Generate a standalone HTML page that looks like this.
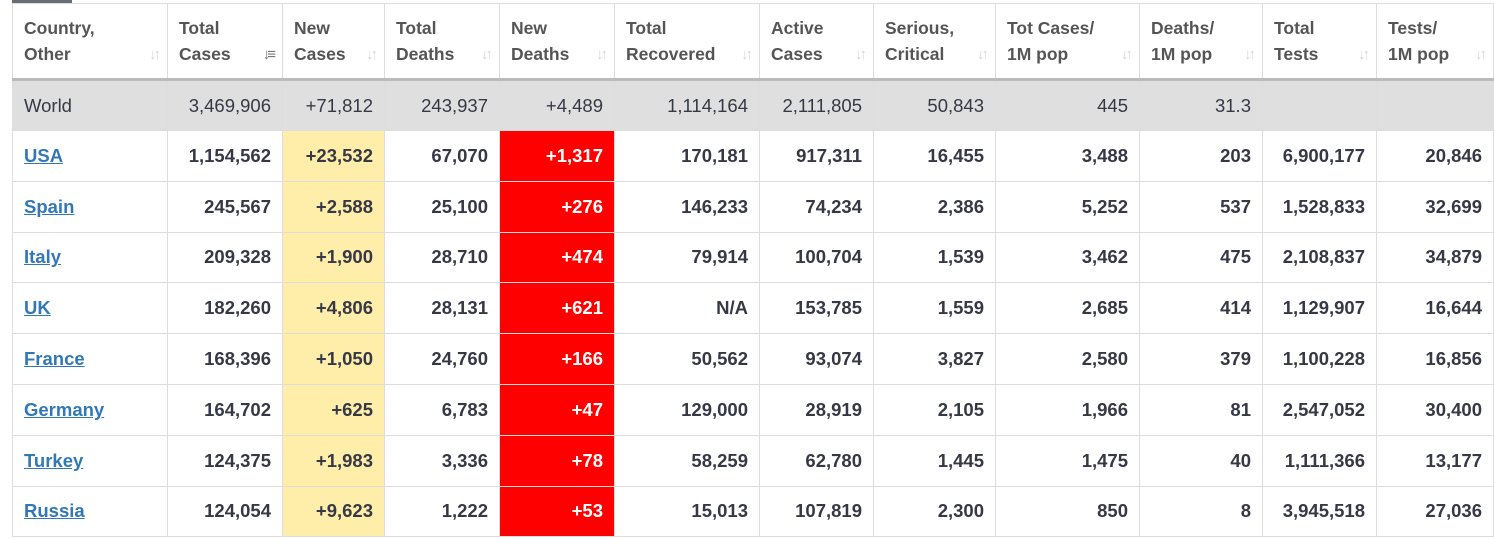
<!DOCTYPE html>
<html><head><meta charset="utf-8">
<style>
html,body{margin:0;padding:0;background:#fff;width:1494px;height:539px;overflow:hidden}
body{font-family:"Liberation Sans","DejaVu Sans",sans-serif;position:relative}
#tab{position:absolute;left:12px;top:0;width:60px;height:3px;background:#666d75}
table{position:absolute;left:12px;top:3px;border-collapse:collapse;table-layout:fixed;width:1481px}
th,td{border:1px solid #ddd;box-sizing:border-box;padding:0 11px;overflow:hidden;white-space:nowrap}
th{height:76px;text-align:left;vertical-align:middle;color:#555;font-weight:bold;font-size:17.5px;line-height:26px;position:relative;border-bottom:3px solid #bbb}
th .ic{position:absolute;right:9px;top:38px;color:#d8d8d8;font-size:15px;letter-spacing:-3px;font-weight:bold}
th .ic.on{color:#777}
td{height:50.8px;text-align:right;font-size:18.5px;color:#363945;font-weight:bold}
td:first-child{text-align:left}
tr.world td{background:#dfdfdf;font-weight:normal;height:51px}
td a{color:#3278b6;text-decoration:underline}
td.nc{background:#ffeeaa}
td.nd{background:#ff0000;color:#fff}
tr.world td.nc,tr.world td.nd{background:#dfdfdf;color:#363945}
</style></head><body>
<div id="tab"></div>
<table id="t">
<colgroup><col style="width:155px"><col style="width:115px"><col style="width:102px"><col style="width:115px"><col style="width:115px"><col style="width:145px"><col style="width:114px"><col style="width:122px"><col style="width:144px"><col style="width:123px"><col style="width:114px"><col style="width:117px"></colgroup>
<thead><tr id="hr"></tr></thead>
<tbody id="tb"></tbody>
</table>
<script>
const headers=[["Country,","Other"],["Total","Cases"],["New","Cases"],["Total","Deaths"],["New","Deaths"],["Total","Recovered"],["Active","Cases"],["Serious,","Critical"],["Tot Cases/","1M pop"],["Deaths/","1M pop"],["Total","Tests"],["Tests/","1M pop"]];
const rows=[
["World","3,469,906","+71,812","243,937","+4,489","1,114,164","2,111,805","50,843","445","31.3","",""],
["USA","1,154,562","+23,532","67,070","+1,317","170,181","917,311","16,455","3,488","203","6,900,177","20,846"],
["Spain","245,567","+2,588","25,100","+276","146,233","74,234","2,386","5,252","537","1,528,833","32,699"],
["Italy","209,328","+1,900","28,710","+474","79,914","100,704","1,539","3,462","475","2,108,837","34,879"],
["UK","182,260","+4,806","28,131","+621","N/A","153,785","1,559","2,685","414","1,129,907","16,644"],
["France","168,396","+1,050","24,760","+166","50,562","93,074","3,827","2,580","379","1,100,228","16,856"],
["Germany","164,702","+625","6,783","+47","129,000","28,919","2,105","1,966","81","2,547,052","30,400"],
["Turkey","124,375","+1,983","3,336","+78","58,259","62,780","1,445","1,475","40","1,111,366","13,177"],
["Russia","124,054","+9,623","1,222","+53","15,013","107,819","2,300","850","8","3,945,518","27,036"]];
const hr=document.getElementById('hr');
headers.forEach((h,i)=>{
  const th=document.createElement('th');
  
  
  th.innerHTML=h[0]+'<br>'+h[1];
  const ic=document.createElement('span');
  ic.className='ic'+(i===1?' on':'');
  ic.textContent=i===1?'↓≡':'↓↑';
  
  
  th.appendChild(ic);
  hr.appendChild(th);
});
const tb=document.getElementById('tb');
rows.forEach((r,ri)=>{
  const tr=document.createElement('tr');
  if(ri===0)tr.className='world';
  
  
  r.forEach((v,ci)=>{
    const td=document.createElement('td');
    if(ci===2)td.className='nc';
    if(ci===4)td.className='nd';
    
    
    if(ci===0&&ri>0){
      const a=document.createElement('a');
      a.textContent=v;
      
      
      td.appendChild(a);
    } else td.textContent=v;
    tr.appendChild(td);
  });
  tb.appendChild(tr);
});
</script>
</body></html>
